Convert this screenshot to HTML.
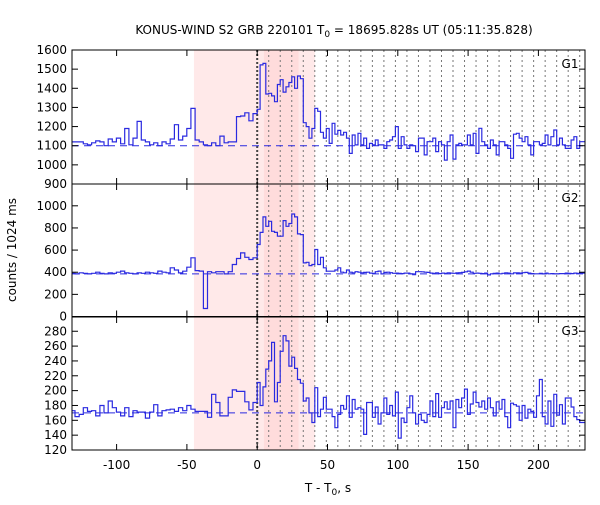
<!DOCTYPE html>
<html><head><meta charset="utf-8"><style>
body{margin:0;background:#fff;}
svg text{font-family:"DejaVu Sans","Liberation Sans",sans-serif;}
</style></head><body>
<svg id="chart" width="600" height="500" viewBox="0 0 600 500" xmlns="http://www.w3.org/2000/svg">
<defs><clipPath id="clip"><rect x="72" y="50" width="513" height="400"/></clipPath></defs>
<text x="334" y="34" text-anchor="middle" font-size="12">KONUS-WIND S2 GRB 220101 T<tspan font-size="9" dy="3">0</tspan><tspan dy="-3"> = 18695.828s UT (05:11:35.828)</tspan></text>
<text transform="translate(16,250) rotate(-90)" text-anchor="middle" font-size="12">counts / 1024 ms</text>
<text x="328" y="492" text-anchor="middle" font-size="12">T - T<tspan font-size="9" dy="3">0</tspan><tspan dy="-3">, s</tspan></text>
<g id="bg"></g><g id="grid"></g><g id="series" clip-path="url(#clip)"></g><g id="axes"></g>
</svg>
<script>
const preStart=-132.5, preW=2.944, postW=2.048;
const xTicks=[-100,-50,0,50,100,150,200];
const g1Ticks=[900,1000,1100,1200,1300,1400,1500,1600];
const g2Ticks=[0,200,400,600,800,1000];
const g3Ticks=[120,140,160,180,200,220,240,260,280];
const baselines=[1100,385,170];
const shadeOuter=[-45,41];
const shadeInner=[4.8,29.4];
const g1Pre=[1120,1120,1120,1110,1105,1115,1125,1120,1100,1135,1120,1140,1110,1190,1105,1140,1227,1130,1120,1105,1115,1100,1120,1110,1135,1210,1130,1150,1190,1295,1130,1120,1105,1100,1115,1100,1150,1115,1120,1120,1252,1255,1272,1230,1268];
const g1Post=[1290,1522,1530,1370,1374,1360,1330,1420,1445,1380,1408,1430,1460,1400,1464,1450,1220,1200,1139,1190,1295,1280,1170,1140,1190,1112,1217,1160,1180,
1156,1170,1140,1060,1156,1104,1165,1104,1140,1086,1112,1104,1130,1104,1104,1086,1121,1130,1147,1200,1086,1147,1104,1086,1104,1100,1069,1140,1140,1052,1121,1121,1140,1069,1121,1104,1025,1121,1156,1030,1104,1112,1104,1104,1156,1104,1165,1060,1191,1121,1104,1086,1130,1104,1052,1121,1121,1104,1086,1034,1160,1165,1140,1121,1147,1104,1052,1121,1121,1104,1112,1156,1104,1147,1182,1104,1140,1104,1086,1086,1130,1147,1086,1121,1121];
const g2Pre=[390,385,395,390,385,390,400,390,385,395,390,400,410,395,390,385,395,390,400,395,390,410,400,395,440,420,
394,409,445,530,415,410,72,405,395,405,405,385,405,470,524,575,535,515,530];
const g2Post=[650,760,900,815,860,770,760,725,725,866,815,840,926,900,746,740,484,490,460,470,605,470,535,440,409,409,409,420,440,
400,395,420,400,395,405,400,395,398,400,392,390,405,410,385,398,400,396,390,392,390,388,392,392,385,378,405,405,404,400,398,392,390,395,388,392,390,395,392,390,394,396,398,404,410,400,390,392,390,388,392,376,386,390,392,386,390,395,392,386,394,394,392,396,398,392,388,386,386,390,385,392,386,388,386,386,388,388,392,390,388,392,390,394,392];
const g3Pre=[173,165,168,177,172,173,166,180,170,186,177,171,166,177,165,173,171,171,163,171,181,166,173,174,175,172,
177,173,180,175,172,172,172,164,195,184,166,166,191,201,199,199,185,174,184];
const g3Post=[211,180,205,229,240,265,185,211,253,274,267,233,245,230,215,210,186,190,170,157,204,165,175,191,175,175,165,150,168,
180,175,193,164,188,175,177,175,141,184,184,164,178,155,170,190,168,180,166,198,136,163,157,177,193,170,155,168,160,157,168,186,165,196,164,177,185,175,186,150,188,177,190,202,168,182,198,184,178,186,175,190,177,166,185,175,188,165,150,183,181,179,160,180,163,175,172,164,193,215,165,155,186,152,195,167,181,155,190,190,178,165,161,157,157];

const X0=257.2, XS=1.406, L=72, R=585;
const xs=t=>X0+XS*t;
const panels=[
 {name:'g1',top:50,bot:184,lo:900,hi:1600,ticks:g1Ticks,pre:g1Pre,post:g1Post,label:'G1'},
 {name:'g2',top:184,bot:316.5,lo:0,hi:1197,ticks:g2Ticks,pre:g2Pre,post:g2Post,label:'G2'},
 {name:'g3',top:317,bot:450,lo:120,hi:299.2,ticks:g3Ticks,pre:g3Pre,post:g3Post,label:'G3'}];
const NS='http://www.w3.org/2000/svg';
function mk(tag,attrs,parent){const e=document.createElementNS(NS,tag);for(const k in attrs)e.setAttribute(k,attrs[k]);parent.appendChild(e);return e;}
const bg=document.getElementById('bg'),grid=document.getElementById('grid'),ser=document.getElementById('series'),ax=document.getElementById('axes');
let r=mk('rect',{x:xs(shadeOuter[0]),y:50,width:xs(shadeOuter[1])-xs(shadeOuter[0]),height:400,fill:'#ffe9e9'},bg);


r=mk('rect',{x:xs(shadeInner[0]),y:50,width:xs(shadeInner[1])-xs(shadeInner[0]),height:400,fill:'#ffdcdc'},bg);


for(let k=1;k*8.192<233;k++){const x=xs(k*8.192);
 const l=mk('line',{x1:x,x2:x,y1:50,y2:450,stroke:'#777','stroke-width':1,'stroke-dasharray':'2,3'},grid);
 
 }
let z=mk('line',{x1:xs(0),x2:xs(0),y1:50,y2:450,stroke:'#444','stroke-width':2,'stroke-dasharray':'2,2'},grid);


panels.forEach(p=>{
 const ys=v=>p.bot-(v-p.lo)/(p.hi-p.lo)*(p.bot-p.top);
 const edges=[],vals=[];
 p.pre.forEach((v,i)=>{edges.push(preStart+i*preW);vals.push(v);});
 p.post.forEach((v,i)=>{edges.push(i*postW);vals.push(v);});
 edges.push(p.post.length*postW);
 let d='M'+xs(edges[0]).toFixed(1)+','+ys(vals[0]).toFixed(1);
 for(let i=0;i<vals.length;i++){if(i>0)d+='V'+ys(vals[i]).toFixed(1);d+='H'+xs(edges[i+1]).toFixed(1);}
 const s=mk('path',{d:d,fill:'none',stroke:'#2a2ae0','stroke-width':1.2},ser);
 
 
 const b=mk('line',{x1:L,x2:R,y1:ys(baselines[panels.indexOf(p)]),y2:ys(baselines[panels.indexOf(p)]),stroke:'#2a2ae0','stroke-width':1,'stroke-dasharray':'7,5'},ser);
 
 
 const fr=mk('rect',{x:L,y:p.top,width:R-L,height:p.bot-p.top,fill:'none',stroke:'#000','stroke-width':1},ax);
 
 
 p.ticks.forEach(v=>{const y=ys(v);
  mk('line',{x1:L,x2:L+6,y1:y,y2:y,stroke:'#000'},ax);
  mk('line',{x1:R-6,x2:R,y1:y,y2:y,stroke:'#000'},ax);
  const t=mk('text',{x:L-5,y:y+4,'text-anchor':'end','font-size':12},ax);t.textContent=v;
  
  });
 xTicks.forEach(v=>{const x=xs(v);
  mk('line',{x1:x,x2:x,y1:p.bot,y2:p.bot-6,stroke:'#000'},ax);
  mk('line',{x1:x,x2:x,y1:p.top,y2:p.top+6,stroke:'#000'},ax);});
 const lb=mk('text',{x:570,y:p.top+18,'text-anchor':'middle','font-size':12},ax);lb.textContent=p.label;
 
 
});
xTicks.forEach(v=>{const t=mk('text',{x:xs(v),y:469,'text-anchor':'middle','font-size':12},ax);t.textContent=v;
 
 });
</script>
</body></html>
